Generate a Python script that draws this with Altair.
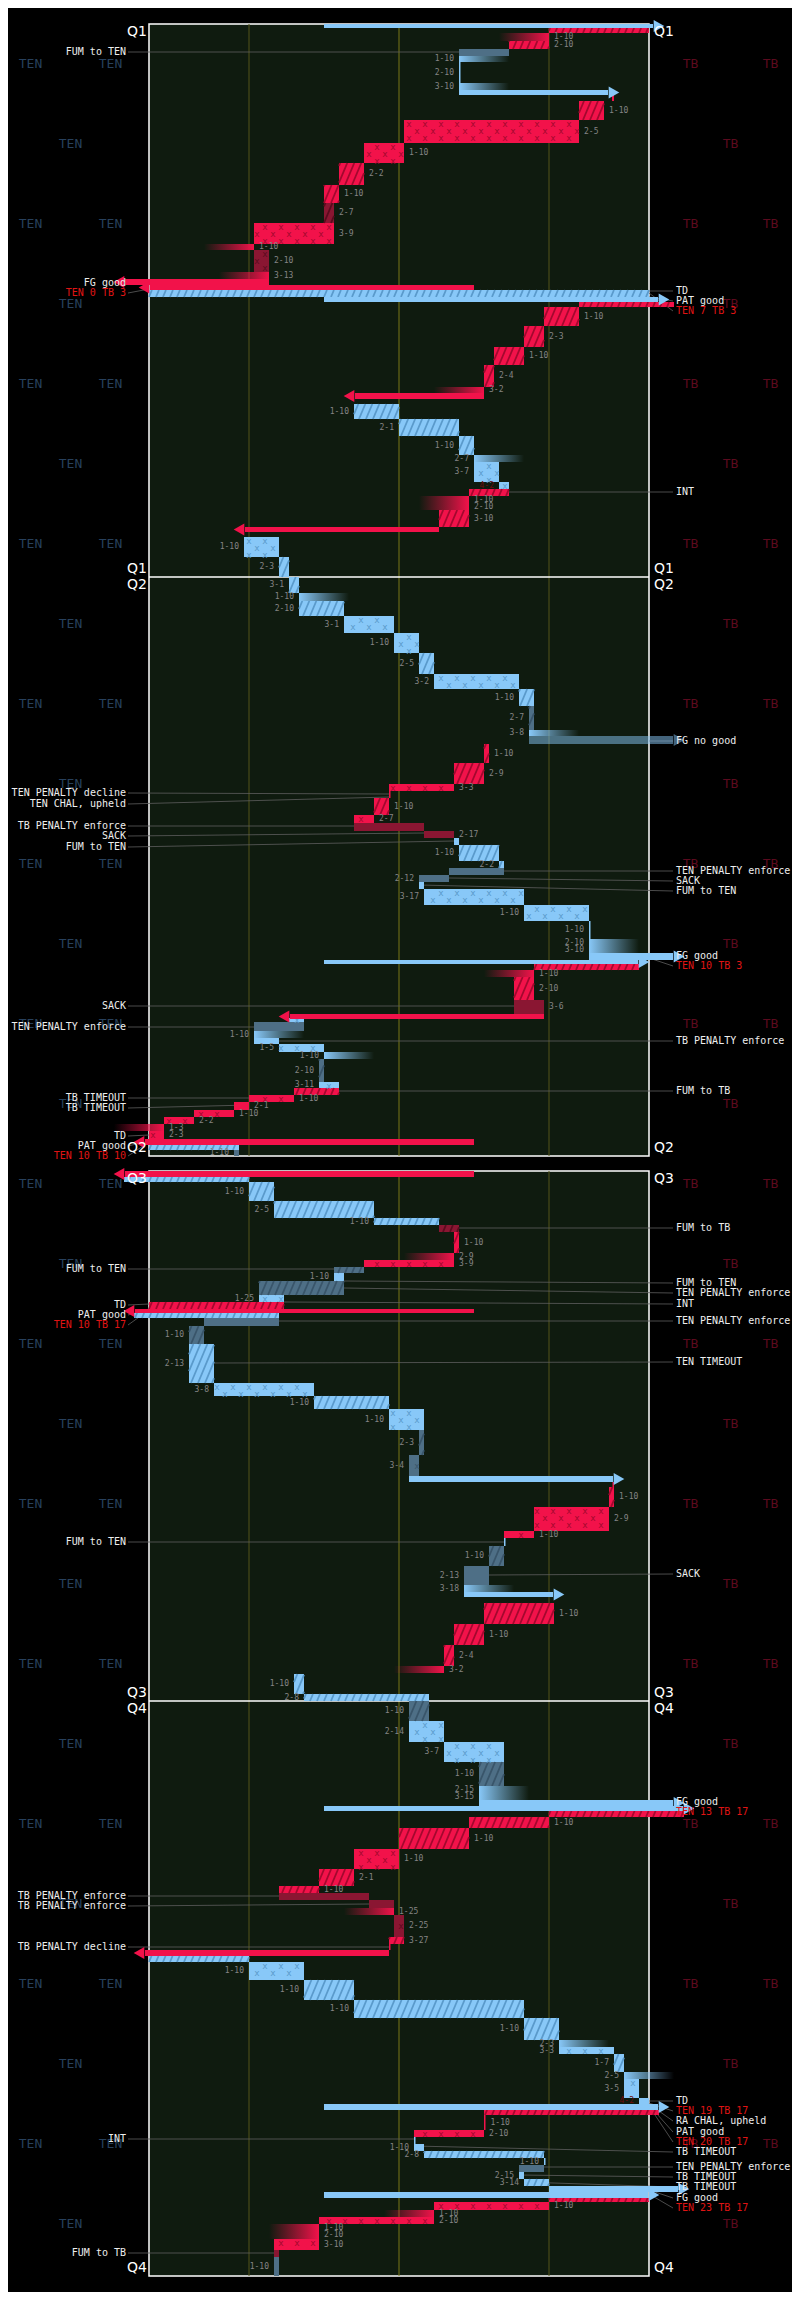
import math
import altair as alt
import pandas as pd

# ---------------- data ----------------
# play = (timeline start, timeline end, from yard, to yard, team, kind, down)
# yards measured from the TEN goal line (left); timeline runs top -> bottom
q1_plays = [
    (24, 28, 35, 102, "TEN", "kick", ""),
    (28, 33, 100, 80, "TB", "run", ""),
    (33, 41, 80, 80, "TB", "inc", "1-10"),
    (41, 49, 80, 72, "TB", "run", "2-10"),
    (49, 56, 72, 62, "TEN", "pen", ""),
    (56, 62, 62, 62, "TEN", "inc", "1-10"),
    (62, 83, 62, 62, "TEN", "run", "2-10"),
    (83, 90, 62, 62, "TEN", "inc", "3-10"),
    (90, 95, 62, 93, "TEN", "kick", ""),
    (95, 101, 93, 92.6, "TB", "run", ""),
    (101, 120, 91, 86, "TB", "run", "1-10"),
    (120, 143, 86, 51, "TB", "pass", "2-5"),
    (143, 163, 51, 43, "TB", "pass", "1-10"),
    (163, 185, 43, 38, "TB", "run", "2-2"),
    (185, 203, 38, 35, "TB", "run", "1-10"),
    (203, 223, 35, 37, "TB", "drun", "2-7"),
    (223, 244, 37, 21, "TB", "pass", "3-9"),
    (244, 250, 21, 21, "TB", "inc", "1-10"),
    (250, 272, 21, 24, "TB", "dpass", "2-10"),
    (272, 279, 24, 24, "TB", "inc", "3-13"),
    (279, 285, 24, -6, "TB", "kick", ""),
    (285, 290, 65, -1, "TB", "kick", ""),
    (290, 297, 0, 100, "TEN", "run", ""),
    (297, 302, 35, 103, "TEN", "kick", ""),
    (302, 307, 105, 86, "TB", "run", ""),
    (307, 326, 86, 79, "TB", "run", "1-10"),
    (326, 347, 79, 75, "TB", "run", "2-3"),
    (347, 365, 75, 69, "TB", "run", "1-10"),
    (365, 387, 69, 67, "TB", "run", "2-4"),
    (387, 393, 67, 67, "TB", "inc", "3-2"),
    (393, 399, 67, 40, "TB", "kick", ""),
    (404, 419, 41, 50, "TEN", "run", "1-10"),
    (419, 436, 50, 62, "TEN", "run", "2-1"),
    (436, 455, 62, 65, "TEN", "run", "1-10"),
    (455, 462, 65, 65, "TEN", "inc", "2-7"),
    (462, 482, 65, 70, "TEN", "pass", "3-7"),
    (482, 489, 70, 72, "TEN", "pass", "4-2"),
    (489, 496, 72, 64, "TB", "run", ""),
    (496, 503, 64, 64, "TB", "inc", "1-10"),
    (503, 510, 64, 64, "TB", "inc", "2-10"),
    (510, 527, 64, 58, "TB", "run", "3-10"),
    (527, 532, 58, 18, "TB", "kick", ""),
    (537, 557, 19, 26, "TEN", "pass", "1-10"),
    (557, 577, 26, 28, "TEN", "run", "2-3"),
]

q2_plays = [
    (577, 593, 28, 30, "TEN", "run", "3-1"),
    (593, 601, 30, 30, "TEN", "inc", "1-10"),
    (601, 616, 30, 39, "TEN", "run", "2-10"),
    (616, 633, 39, 49, "TEN", "pass", "3-1"),
    (633, 653, 49, 54, "TEN", "pass", "1-10"),
    (653, 674, 54, 57, "TEN", "run", "2-5"),
    (674, 689, 57, 74, "TEN", "pass", "3-2"),
    (689, 706, 74, 77, "TEN", "run", "1-10"),
    (706, 730, 77, 76, "TEN", "drun", "2-7"),
    (730, 736, 76, 76, "TEN", "inc", "3-8"),
    (736, 744, 76, 106, "TEN", "miss", ""),
    (744, 763, 68, 67, "TB", "run", "1-10"),
    (763, 784, 67, 61, "TB", "run", "2-9"),
    (784, 791, 61, 48, "TB", "pass", "3-3"),
    (791, 798, 48, 48, "TB", "run", ""),
    (798, 815, 48, 45, "TB", "run", "1-10"),
    (815, 823, 45, 41, "TB", "pass", "2-7"),
    (823, 831, 41, 55, "TB", "pen", ""),
    (831, 838, 55, 61, "TB", "pen", "2-17"),
    (838, 845, 61, 62, "TEN", "solid", ""),
    (845, 861, 62, 70, "TEN", "run", "1-10"),
    (861, 868, 70, 71, "TEN", "run", "2-2"),
    (868, 875, 71, 60, "TEN", "pen", ""),
    (875, 882, 60, 54, "TEN", "pen", "2-12"),
    (882, 889, 54, 55, "TEN", "solid", ""),
    (889, 905, 55, 75, "TEN", "pass", "3-17"),
    (905, 921, 75, 88, "TEN", "pass", "1-10"),
    (921, 939, 88, 88, "TEN", "run", "1-10"),
    (939, 946, 88, 88, "TEN", "inc", "2-10"),
    (946, 953, 88, 88, "TEN", "inc", "3-10"),
    (953, 960, 88, 106, "TEN", "kick", ""),
    (960, 964, 35, 99, "TEN", "kick", ""),
    (964, 970, 98, 77, "TB", "run", ""),
    (970, 977, 77, 77, "TB", "inc", "1-10"),
    (977, 1000, 77, 73, "TB", "run", "2-10"),
    (1000, 1014, 73, 79, "TB", "pen", "3-6"),
    (1014, 1019, 79, 27, "TB", "kick", ""),
    (1018, 1022, 28, 31, "TEN", "pass", ""),
    (1022, 1031, 31, 21, "TEN", "pen", ""),
    (1031, 1038, 21, 21, "TEN", "inc", "1-10"),
    (1038, 1044, 21, 26, "TEN", "solid", ""),
    (1044, 1052, 26, 35, "TEN", "pass", "1-5"),
    (1052, 1059, 35, 35, "TEN", "inc", "1-10"),
    (1059, 1082, 35, 34, "TEN", "drun", "2-10"),
    (1082, 1088, 34, 38, "TEN", "pass", "3-11"),
    (1088, 1095, 38, 29, "TB", "run", ""),
    (1095, 1102, 29, 20, "TB", "pass", "1-10"),
    (1102, 1110, 20, 17, "TB", "pass", "2-1"),
    (1110, 1117, 17, 9, "TB", "pass", "1-10"),
    (1117, 1124, 9, 3, "TB", "pass", "2-2"),
    (1124, 1131, 3, 3, "TB", "inc", "1-3"),
    (1131, 1139, 3, 0, "TB", "pass", "2-3"),
    (1139, 1145, 65, -2, "TB", "kick", ""),
    (1145, 1150, 0, 18, "TEN", "run", ""),
    (1150, 1156, 18, 17, "TEN", "pen", "1-10"),
]

q3_plays = [
    (1171, 1177, 65, -6, "TB", "kick", ""),
    (1177, 1182, -5, 20, "TEN", "run", ""),
    (1182, 1201, 20, 25, "TEN", "run", "1-10"),
    (1201, 1218, 25, 45, "TEN", "run", "2-5"),
    (1218, 1225, 45, 58, "TEN", "run", "1-10"),
    (1225, 1232, 58, 62, "TB", "drun", ""),
    (1232, 1253, 62, 61, "TB", "run", "1-10"),
    (1253, 1260, 61, 61, "TB", "inc", "2-9"),
    (1260, 1267, 61, 43, "TB", "pass", "3-9"),
    (1267, 1273, 43, 37, "TEN", "drun", ""),
    (1273, 1281, 37, 39, "TEN", "pass", "1-10"),
    (1281, 1295, 39, 22, "TEN", "drun", ""),
    (1295, 1302, 22, 27, "TEN", "pass", "1-25"),
    (1302, 1309, 27, 0, "TB", "run", ""),
    (1309, 1313, 65, -4, "TB", "kick", ""),
    (1313, 1318, -3, 26, "TEN", "run", ""),
    (1318, 1326, 26, 11, "TEN", "pen", ""),
    (1326, 1344, 11, 8, "TEN", "drun", "1-10"),
    (1344, 1383, 8, 13, "TEN", "run", "2-13"),
    (1383, 1396, 13, 33, "TEN", "pass", "3-8"),
    (1396, 1409, 33, 48, "TEN", "run", "1-10"),
    (1409, 1430, 48, 55, "TEN", "pass", "1-10"),
    (1430, 1455, 55, 54, "TEN", "drun", "2-3"),
    (1455, 1476, 54, 52, "TEN", "dpass", "3-4"),
    (1476, 1482, 52, 94, "TEN", "kick", ""),
    (1482, 1487, 93, 92.7, "TB", "run", ""),
    (1487, 1507, 93, 92, "TB", "run", "1-10"),
    (1507, 1531, 92, 77, "TB", "pass", "2-9"),
    (1531, 1538, 77, 71, "TB", "pass", "1-10"),
    (1538, 1546, 71, 71, "TEN", "solid", ""),
    (1546, 1566, 71, 68, "TEN", "drun", "1-10"),
    (1566, 1585, 68, 63, "TEN", "pen", "2-13"),
    (1585, 1592, 63, 63, "TEN", "inc", "3-18"),
    (1592, 1597, 63, 82, "TEN", "kick", ""),
    (1603, 1624, 81, 67, "TB", "run", "1-10"),
    (1624, 1645, 67, 61, "TB", "run", "1-10"),
    (1645, 1666, 61, 59, "TB", "run", "2-4"),
    (1666, 1673, 59, 59, "TB", "inc", "3-2"),
    (1674, 1694, 29, 31, "TEN", "run", "1-10"),
    (1694, 1701, 31, 56, "TEN", "run", "2-8"),
]

q4_plays = [
    (1701, 1721, 56, 52, "TEN", "drun", "1-10"),
    (1721, 1742, 52, 59, "TEN", "pass", "2-14"),
    (1742, 1762, 59, 71, "TEN", "pass", "3-7"),
    (1762, 1786, 71, 66, "TEN", "drun", "1-10"),
    (1786, 1793, 66, 66, "TEN", "inc", "2-15"),
    (1793, 1800, 66, 66, "TEN", "inc", "3-15"),
    (1800, 1806, 66, 106, "TEN", "kick", ""),
    (1806, 1811, 35, 108, "TEN", "kick", ""),
    (1811, 1817, 107, 80, "TB", "run", ""),
    (1817, 1828, 80, 64, "TB", "run", "1-10"),
    (1828, 1849, 64, 50, "TB", "run", "1-10"),
    (1849, 1869, 50, 41, "TB", "pass", "1-10"),
    (1869, 1886, 41, 34, "TB", "run", "2-1"),
    (1886, 1893, 34, 26, "TB", "run", "1-10"),
    (1893, 1900, 26, 44, "TB", "pen", ""),
    (1900, 1908, 44, 49, "TB", "pen", ""),
    (1908, 1915, 49, 49, "TB", "inc", "1-25"),
    (1915, 1937, 49, 51, "TB", "dpass", "2-25"),
    (1937, 1944, 51, 48, "TB", "run", "3-27"),
    (1944, 1950, 48, 48, "TB", "run", ""),
    (1950, 1956, 48, -2, "TB", "kick", ""),
    (1956, 1962, 0, 20, "TEN", "run", ""),
    (1962, 1980, 20, 31, "TEN", "pass", "1-10"),
    (1980, 2000, 31, 41, "TEN", "run", "1-10"),
    (2000, 2018, 41, 75, "TEN", "run", "1-10"),
    (2018, 2040, 75, 82, "TEN", "run", "1-10"),
    (2040, 2047, 82, 82, "TEN", "inc", "2-3"),
    (2047, 2054, 82, 93, "TEN", "pass", "3-3"),
    (2054, 2072, 93, 95, "TEN", "run", "1-7"),
    (2072, 2079, 95, 95, "TEN", "inc", "2-5"),
    (2079, 2098, 95, 98, "TEN", "pass", "3-5"),
    (2098, 2104, 98, 100, "TEN", "pass", "4-2"),
    (2104, 2110, 35, 103, "TEN", "kick", ""),
    (2110, 2115, 102, 67, "TB", "run", ""),
    (2115, 2130, 67, 67, "TB", "run", "1-10"),
    (2130, 2137, 67, 53, "TB", "pass", "2-10"),
    (2137, 2144, 53, 53, "TEN", "solid", ""),
    (2144, 2151, 53, 55, "TEN", "pass", "1-10"),
    (2151, 2158, 55, 79, "TEN", "run", "2-8"),
    (2158, 2165, 79, 79, "TEN", "solid", "1-10"),
    (2165, 2172, 79, 74, "TEN", "pen", ""),
    (2172, 2179, 74, 75, "TEN", "solid", "2-15"),
    (2179, 2186, 75, 80, "TEN", "run", "3-14"),
    (2186, 2192, 80, 107, "TEN", "kick", ""),
    (2192, 2198, 35, 101, "TEN", "kick", ""),
    (2198, 2202, 100, 80, "TB", "run", ""),
    (2202, 2210, 80, 57, "TB", "pass", "1-10"),
    (2210, 2217, 57, 57, "TB", "inc", "1-10"),
    (2217, 2224, 57, 34, "TB", "pass", "2-10"),
    (2224, 2231, 34, 34, "TB", "inc", "1-10"),
    (2231, 2239, 34, 34, "TB", "inc", "2-10"),
    (2239, 2250, 34, 25, "TB", "pass", "3-10"),
    (2250, 2257, 25, 26, "TB", "pen", ""),
    (2257, 2276, 26, 25, "TEN", "pen", "1-10"),
]

# notes = (text, label timeline position, target yard, target timeline, is_score)
left_notes = [
    ("FUM to TEN", 52, 72, 52, False),
    ("FG good", 283, 24, 282, False),
    ("TEN 0 TB 3", 293, 0, 289, True),
    ("TEN PENALTY decline", 793, 48, 794, False),
    ("TEN CHAL, upheld", 804, 48, 797, False),
    ("TB PENALTY enforce", 826, 41, 826, False),
    ("SACK", 836, 55, 833, False),
    ("FUM to TEN", 847, 61, 841, False),
    ("SACK", 1006, 73, 1006, False),
    ("TEN PENALTY enforce", 1027, 31, 1027, False),
    ("TB TIMEOUT", 1098, 29, 1098, False),
    ("TB TIMEOUT", 1108, 20, 1105, False),
    ("TD", 1136, 0, 1135, False),
    ("PAT good", 1146, 0, 1141, False),
    ("TEN 10 TB 10", 1156, 0, 1142, True),
    ("FUM to TEN", 1269, 37, 1269, False),
    ("TD", 1305, 0, 1304, False),
    ("PAT good", 1315, 0, 1309, False),
    ("TEN 10 TB 17", 1325, 0, 1310, True),
    ("FUM to TEN", 1542, 71, 1542, False),
    ("TB PENALTY enforce", 1896, 26, 1896, False),
    ("TB PENALTY enforce", 1906, 44, 1904, False),
    ("TB PENALTY decline", 1947, 48, 1947, False),
    ("INT", 2139, 53, 2139, False),
    ("FUM to TB", 2253, 25, 2253, False),
]

right_notes = [
    ("TD", 291, 100, 291, False),
    ("PAT good", 301, 100, 297, False),
    ("TEN 7 TB 3", 311, 100, 293, True),
    ("INT", 492, 72, 492, False),
    ("FG no good", 741, 100, 741, False),
    ("TEN PENALTY enforce", 871, 71, 871, False),
    ("SACK", 881, 60, 878, False),
    ("FUM to TEN", 891, 54, 885, False),
    ("FG good", 956, 100, 956, False),
    ("TEN 10 TB 3", 966, 100, 958, True),
    ("TB PENALTY enforce", 1041, 26, 1041, False),
    ("FUM to TB", 1091, 38, 1091, False),
    ("FUM to TB", 1228, 58, 1228, False),
    ("FUM to TEN", 1283, 39, 1281, False),
    ("TEN PENALTY enforce", 1293, 39, 1288, False),
    ("INT", 1304, 27, 1302, False),
    ("TEN PENALTY enforce", 1321, 26, 1321, False),
    ("TEN TIMEOUT", 1362, 13, 1363, False),
    ("SACK", 1574, 68, 1575, False),
    ("FG good", 1802, 100, 1803, False),
    ("TEN 13 TB 17", 1812, 100, 1806, True),
    ("TD", 2101, 100, 2101, False),
    ("TEN 19 TB 17", 2111, 100, 2103, True),
    ("RA CHAL, upheld", 2121, 100, 2104, False),
    ("PAT good", 2132, 100, 2105, False),
    ("TEN 20 TB 17", 2142, 100, 2106, True),
    ("TB TIMEOUT", 2152, 53, 2146, False),
    ("TEN PENALTY enforce", 2167, 79, 2167, False),
    ("TB TIMEOUT", 2177, 74, 2175, False),
    ("TB TIMEOUT", 2187, 75, 2182, False),
    ("FG good", 2198, 100, 2190, False),
    ("TEN 23 TB 17", 2208, 100, 2194, True),
]

quarter_marks = [("Q1", 32), ("Q1", 569), ("Q2", 585), ("Q2", 1148),
                 ("Q3", 1179), ("Q3", 1693), ("Q4", 1709), ("Q4", 2268)]
halves = [(24, 1156), (1171, 2276)]
quarter_breaks = [577, 1701]
yard_lines = [20, 50, 80]

# ---------------- styling ----------------
TEN_C, TEN_DIM = "#88c8f8", "#4e6f86"
TB_C, TB_DIM = "#f2124a", "#8a1632"
HATCH = {("TEN", False): "#5a9acb", ("TB", False): "#a3082e",
         ("TEN", True): "#39556a", ("TB", True): "#5a0b1e"}
FIELD = "#0f1b0f"
MONO = "DejaVu Sans Mono"
PX = 5.0  # pixels per yard (500 px plot width / 100 yards)

rects, hatches, xmarks, incs, kicks, heads, tlabels = [], [], [], [], [], [], []


def add_hatch(xa, xb, y0, y1, col):
    pa, pb = xa * PX, xb * PX
    h = y1 - y0
    if pb - pa < 3 or h < 2:
        return
    d = 0.42 * h
    sp = 7.0
    b = math.floor((pa - d) / sp) * sp
    while b < pb:
        tmin = max(0.0, (pa - b) / d)
        tmax = min(1.0, (pb - b) / d)
        if tmax - tmin > 0.05:
            hatches.append(dict(hx=(b + tmin * d) / PX, hy=y1 - tmin * h,
                                hx2=(b + tmax * d) / PX, hy2=y1 - tmax * h, c=col))
        b += sp


def add_x(xa, xb, y0, y1, col):
    pa, pb = xa * PX, xb * PX
    rows_y = []
    y = y0 + 3.5
    while y <= y1 - 2.5:
        rows_y.append(y)
        y += 7
    if not rows_y:
        rows_y = [(y0 + y1) / 2]
    for k, yy in enumerate(rows_y):
        off = 8 if k % 2 else 0
        cx = 4 + off - 48
        while cx <= pb - 2:
            if cx >= pa + 2:
                xmarks.append(dict(mx=cx / PX, my=yy, c=col))
            cx += 16


for (y0, y1, a, b, team, kind, down) in q1_plays + q2_plays + q3_plays + q4_plays:
    bright = TEN_C if team == "TEN" else TB_C
    dimc = TEN_DIM if team == "TEN" else TB_DIM
    if kind in ("kick", "miss"):
        op = 0.5 if kind == "miss" else 1.0
        right = b > a
        end = b - 1.2 if right else b + 1.2
        kicks.append(dict(y0=y0, y1=y1, xa=min(a, end), xb=max(a, end), c=bright, op=op))
        heads.append(dict(hx=b, hy=(y0 + y1) / 2, s="triangle-right" if right else "triangle-left",
                          c=bright, op=op))
        continue
    if kind == "inc":
        xa, xb = (a, a + 10) if team == "TEN" else (a - 10, a)
        incs.append(dict(y0=y0, y1=y1, xa=xa, xb=xb, team=team))
    else:
        xa, xb = min(a, b), max(a, b)
        if xb - xa < 0.3:
            xb = xa + 0.3
        dim = kind in ("drun", "dpass", "pen")
        rects.append(dict(y0=y0, y1=y1, xa=xa, xb=xb, c=dimc if dim else bright))
        if kind in ("run", "drun"):
            add_hatch(xa, xb, y0, y1, HATCH[(team, dim)])
        if kind in ("pass", "dpass"):
            add_x(xa, xb, y0, y1, HATCH[(team, dim)])
    if down:
        tlabels.append(dict(team=team, lx=xa if team == "TEN" else xb, ly=(y0 + y1) / 2,
                            t=down, c="#6e0c0c" if down.startswith("4-") else "#858585"))

XS = alt.Scale(domain=[0, 100], nice=False, zero=False)
YS = alt.Scale(domain=[24, 2276], reverse=True, nice=False, zero=False)


def X(f):
    return alt.X(f, scale=XS, axis=None)


def Y(f):
    return alt.Y(f, scale=YS, axis=None)


layers = []

# watermark team names in the side margins (repeating layout)
wm = []
for k in range(28):
    yy = 64 + 80 * k
    if k % 2 == 0:
        for px in (30.5, 110.5):
            wm.append(dict(wx=(px - 149) / PX, wy=yy, t="TEN", c="#27405c"))
        for px in (690.5, 770.5):
            wm.append(dict(wx=(px - 149) / PX, wy=yy, t="TB", c="#5c0a1e"))
    else:
        wm.append(dict(wx=(70.5 - 149) / PX, wy=yy, t="TEN", c="#27405c"))
        wm.append(dict(wx=(730.5 - 149) / PX, wy=yy, t="TB", c="#5c0a1e"))
layers.append(alt.Chart(pd.DataFrame(wm)).mark_text(font=MONO, fontSize=13, baseline="middle").encode(
    x=X("wx:Q"), y=Y("wy:Q"), text="t:N", color=alt.Color("c:N", scale=None)))

# field background per half
hdf = pd.DataFrame([dict(y0=a, y1=b, xa=0, xb=100) for a, b in halves])
layers.append(alt.Chart(hdf).mark_rect(fill=FIELD, stroke="white", strokeWidth=1.5).encode(
    x=X("xa:Q"), x2="xb:Q", y=Y("y0:Q"), y2="y1:Q"))

# yard lines
yl = pd.DataFrame([dict(yx=v, y0=a, y1=b, c="#7a7818" if v == 50 else "#55551a")
                   for v in yard_lines for a, b in halves])
layers.append(alt.Chart(yl).mark_rule(strokeWidth=1).encode(
    x=X("yx:Q"), y=Y("y0:Q"), y2="y1:Q", color=alt.Color("c:N", scale=None)))

# quarter breaks
qb = pd.DataFrame([dict(qy=v, xa=0, xb=100) for v in quarter_breaks])
layers.append(alt.Chart(qb).mark_rule(color="white", strokeWidth=1.5).encode(
    x=X("xa:Q"), x2="xb:Q", y=Y("qy:Q")))

# annotation leader lines
lines = []
for (t, ly, tx, ty, sc) in left_notes:
    lines.append(dict(x1=-4.2, y1=ly, x2=tx, y2=ty))
for (t, ly, tx, ty, sc) in right_notes:
    lines.append(dict(x1=tx, y1=ty, x2=104.8, y2=ly))
layers.append(alt.Chart(pd.DataFrame(lines)).mark_rule(color="#5e5e5e", strokeWidth=1, opacity=0.8).encode(
    x=X("x1:Q"), y=Y("y1:Q"), x2="x2:Q", y2="y2:Q"))

# plays
layers.append(alt.Chart(pd.DataFrame(rects)).mark_rect().encode(
    x=X("xa:Q"), x2="xb:Q", y=Y("y0:Q"), y2="y1:Q", color=alt.Color("c:N", scale=None)))
layers.append(alt.Chart(pd.DataFrame(hatches)).mark_rule(strokeWidth=1.8).encode(
    x=X("hx:Q"), y=Y("hy:Q"), x2="hx2:Q", y2="hy2:Q", color=alt.Color("c:N", scale=None)))
layers.append(alt.Chart(pd.DataFrame(xmarks)).mark_text(text="x", font=MONO, fontSize=9, baseline="middle").encode(
    x=X("mx:Q"), y=Y("my:Q"), color=alt.Color("c:N", scale=None)))

ten_grad = alt.Gradient(gradient="linear", x1=0, x2=1, y1=0, y2=0, stops=[
    alt.GradientStop(color=TEN_C, offset=0), alt.GradientStop(color="rgba(136,200,248,0)", offset=1)])
tb_grad = alt.Gradient(gradient="linear", x1=0, x2=1, y1=0, y2=0, stops=[
    alt.GradientStop(color="rgba(242,18,74,0)", offset=0), alt.GradientStop(color=TB_C, offset=1)])
idf = pd.DataFrame(incs)
layers.append(alt.Chart(idf[idf.team == "TEN"]).mark_rect(fill=ten_grad).encode(
    x=X("xa:Q"), x2="xb:Q", y=Y("y0:Q"), y2="y1:Q"))
layers.append(alt.Chart(idf[idf.team == "TB"]).mark_rect(fill=tb_grad).encode(
    x=X("xa:Q"), x2="xb:Q", y=Y("y0:Q"), y2="y1:Q"))

# kicks with arrow heads
layers.append(alt.Chart(pd.DataFrame(kicks)).mark_rect().encode(
    x=X("xa:Q"), x2="xb:Q", y=Y("y0:Q"), y2="y1:Q", color=alt.Color("c:N", scale=None),
    opacity=alt.Opacity("op:Q", scale=None)))
layers.append(alt.Chart(pd.DataFrame(heads)).mark_point(filled=True, size=150, strokeWidth=0).encode(
    x=X("hx:Q"), y=Y("hy:Q"), shape=alt.Shape("s:N", scale=None), color=alt.Color("c:N", scale=None),
    opacity=alt.Opacity("op:Q", scale=None)))

# down & distance labels
ldf = pd.DataFrame(tlabels)
layers.append(alt.Chart(ldf[ldf.team == "TEN"]).mark_text(font=MONO, fontSize=8, align="right", baseline="middle", dx=-5).encode(
    x=X("lx:Q"), y=Y("ly:Q"), text="t:N", color=alt.Color("c:N", scale=None)))
layers.append(alt.Chart(ldf[ldf.team == "TB"]).mark_text(font=MONO, fontSize=8, align="left", baseline="middle", dx=5).encode(
    x=X("lx:Q"), y=Y("ly:Q"), text="t:N", color=alt.Color("c:N", scale=None)))

# event notes
ln = pd.DataFrame([dict(t=t, ny=ly, c="#e01414" if sc else "#eeeeee") for (t, ly, tx, ty, sc) in left_notes])
rn = pd.DataFrame([dict(t=t, ny=ly, c="#e01414" if sc else "#eeeeee") for (t, ly, tx, ty, sc) in right_notes])
layers.append(alt.Chart(ln).mark_text(font=MONO, fontSize=10, align="right", baseline="middle").encode(
    x=alt.value(-23), y=Y("ny:Q"), text="t:N", color=alt.Color("c:N", scale=None)))
layers.append(alt.Chart(rn).mark_text(font=MONO, fontSize=10, align="left", baseline="middle").encode(
    x=alt.value(527), y=Y("ny:Q"), text="t:N", color=alt.Color("c:N", scale=None)))

# quarter labels on both sides
qdf = pd.DataFrame([dict(t=t, qy=v) for t, v in quarter_marks])
layers.append(alt.Chart(qdf).mark_text(font="DejaVu Sans", fontSize=14, align="right", baseline="middle", color="white").encode(
    x=alt.value(-2), y=Y("qy:Q"), text="t:N"))
layers.append(alt.Chart(qdf).mark_text(font="DejaVu Sans", fontSize=14, align="left", baseline="middle", color="white").encode(
    x=alt.value(505), y=Y("qy:Q"), text="t:N"))

chart = alt.layer(*layers).properties(
    width=500, height=2252,
    autosize=alt.AutoSizeParams(type="none"),
    padding={"left": 141, "top": 16, "right": 143, "bottom": 16},
    background="#000000",
).configure_view(stroke=None)

chart.save("out.html", embed_options={"renderer": "svg", "actions": False})
